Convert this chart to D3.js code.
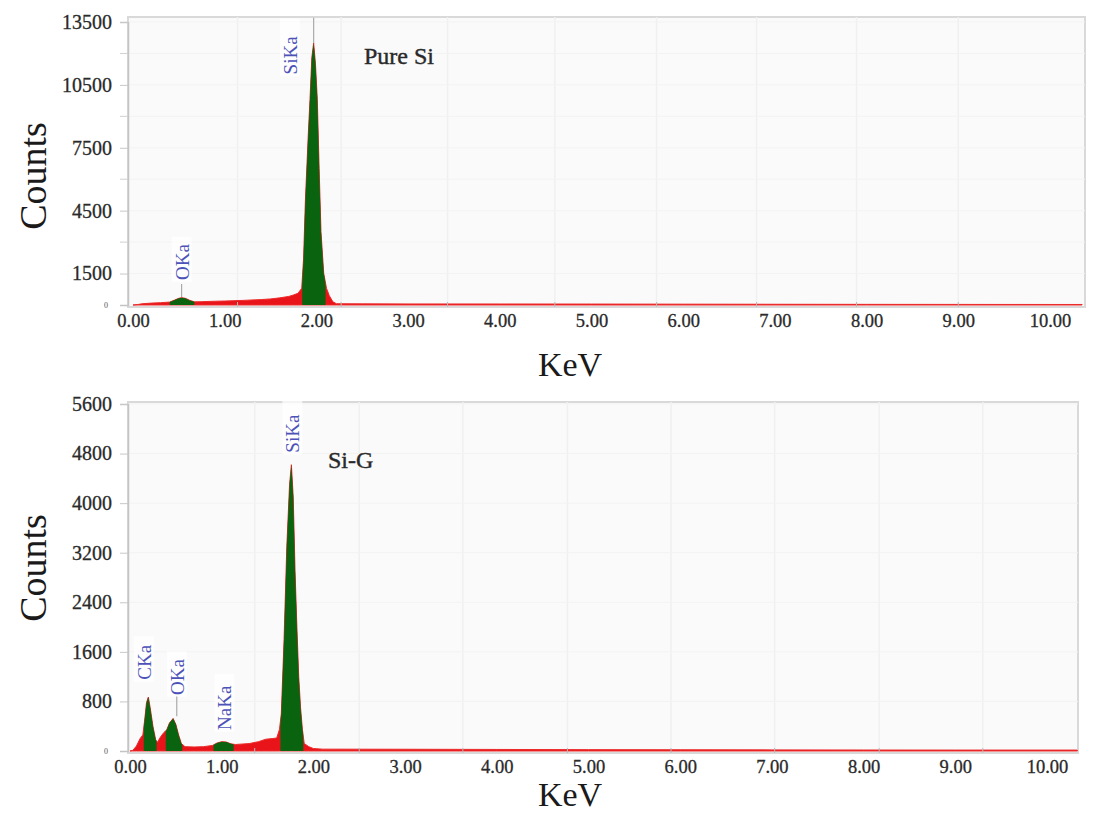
<!DOCTYPE html>
<html>
<head>
<meta charset="utf-8">
<script src="https://cdn.jsdelivr.net/npm/d3@7"></script>
<style>
  body { margin: 0; background: #fff; }
  text { font-family: "Liberation Serif", "Times New Roman", serif; }
</style>
</head>
<body>
<svg id="chart" width="1098" height="816"></svg>
<script>
// x tick labels (keV), shared by both spectra
var xTicks = [0, 1, 2, 3, 4, 5, 6, 7, 8, 9, 10];

// Pure Si spectrum: [keV, counts]
var pureSpectrum = [
  [0.00, 0], [0.05, 20], [0.10, 60], [0.20, 90], [0.30, 110], [0.40, 140],
  [0.45, 230], [0.50, 320], [0.53, 350], [0.57, 320], [0.62, 220], [0.67, 150],
  [0.75, 160], [0.90, 180], [1.00, 190], [1.20, 220], [1.40, 260], [1.50, 290],
  [1.60, 340], [1.70, 410], [1.75, 480], [1.80, 560], [1.84, 800], [1.86, 2200],
  [1.88, 5000], [1.91, 8000], [1.93, 9800], [1.95, 11800], [1.97, 12500],
  [1.99, 11500], [2.01, 9800], [2.03, 6500], [2.05, 3500], [2.08, 1500],
  [2.11, 800], [2.14, 450], [2.18, 150], [2.22, 60], [2.50, 55], [3.00, 50],
  [4.00, 48], [5.00, 45], [6.00, 40], [7.00, 35], [8.00, 30], [9.00, 28],
  [10.00, 25], [10.35, 25]
];
// peak windows painted green: [from keV, to keV]
var purePeaks = [[0.40, 0.67], [1.845, 2.10]];
// peak labels: [text, keV, counts at label foot]
var pureLabels = [["OKa", 0.53, 1190], ["SiKa", 1.71, 11000]];
var pureYTicks = [1500, 4500, 7500, 10500, 13500];
var pureYMinor = [3000, 6000, 9000, 12000];
var pureGrid = [1.14, 2.27, 3.43, 4.60, 5.71, 6.80, 7.89, 9.00];

// Si-G spectrum: [keV, counts]
var sigSpectrum = [
  [0.00, 0], [0.03, 10], [0.07, 80], [0.11, 200], [0.14, 260], [0.16, 500],
  [0.18, 780], [0.20, 870], [0.22, 700], [0.25, 400], [0.28, 180], [0.30, 140],
  [0.33, 220], [0.37, 300], [0.40, 340], [0.43, 450], [0.47, 525], [0.50, 430],
  [0.53, 260], [0.56, 120], [0.60, 70], [0.70, 65], [0.80, 70], [0.90, 90],
  [0.95, 130], [1.00, 150], [1.05, 145], [1.10, 115], [1.15, 105], [1.20, 110],
  [1.30, 120], [1.40, 150], [1.48, 190], [1.55, 200], [1.60, 210], [1.63, 350],
  [1.65, 600], [1.68, 1800], [1.71, 3300], [1.74, 4300], [1.76, 4620],
  [1.78, 4100], [1.80, 2900], [1.82, 2000], [1.84, 1200], [1.86, 700],
  [1.88, 350], [1.90, 120], [1.95, 70], [2.00, 40], [2.10, 30], [3.00, 28],
  [4.00, 25], [5.00, 22], [6.00, 20], [7.00, 18], [8.00, 16], [9.00, 15],
  [10.00, 15], [10.33, 15]
];
var sigPeaks = [[0.15, 0.29], [0.39, 0.57], [0.91, 1.13], [1.64, 1.89]];
var sigLabels = [["CKa", 0.15, 1150], ["OKa", 0.51, 905], ["NaKa", 1.03, 340], ["SiKa", 1.77, 4815]];
var sigYTicks = [800, 1600, 2400, 3200, 4000, 4800, 5600];
var sigYMinor = [];
var sigGrid = [1.36, 2.50, 3.63, 4.77, 5.90, 7.03, 8.17, 9.30];

var svg = d3.select("#chart");

function draw_panel(cfg) {
  var g = svg.append("g");

  var x = d3.scaleLinear().domain([0, 10]).range([cfg.x0, cfg.x10]);
  var y = d3.scaleLinear().domain([0, cfg.yRef]).range([cfg.base, cfg.yRefPx]);

  // plot background
  g.append("rect")
    .attr("x", cfg.left).attr("y", cfg.top)
    .attr("width", cfg.right - cfg.left).attr("height", cfg.base - cfg.top + 2)
    .attr("fill", "#fafafa").attr("stroke", "#d9d9d9").attr("stroke-width", 2);

  // faint grid
  g.selectAll(".vgrid").data(cfg.grid).enter().append("line")
    .attr("x1", function(d) { return x(d); }).attr("x2", function(d) { return x(d); })
    .attr("y1", cfg.top).attr("y2", cfg.base)
    .attr("stroke", "#f0f0f0").attr("stroke-width", 1.5);
  g.selectAll(".hgrid").data(cfg.yTicks.concat(cfg.yMinor)).enter().append("line")
    .attr("x1", cfg.left).attr("x2", cfg.right)
    .attr("y1", function(d) { return y(d); }).attr("y2", function(d) { return y(d); })
    .attr("stroke", "#f3f3f3").attr("stroke-width", 1);

  // spectrum, red everywhere
  var area = d3.area()
    .x(function(d) { return x(d[0]); })
    .y0(y(0))
    .y1(function(d) { return y(d[1]); });

  g.append("path").datum(cfg.spectrum)
    .attr("d", area)
    .attr("fill", "#e8141a")
    .attr("stroke", "#ec2a2a").attr("stroke-width", 1);

  // green peak windows, same area clipped
  cfg.peaks.forEach(function(p, i) {
    var id = "clip-" + cfg.name + "-" + i;
    g.append("clipPath").attr("id", id).append("rect")
      .attr("x", x(p[0])).attr("y", cfg.top)
      .attr("width", x(p[1]) - x(p[0])).attr("height", cfg.base - cfg.top + 2);
    g.append("path").datum(cfg.spectrum)
      .attr("d", area)
      .attr("clip-path", "url(#" + id + ")")
      .attr("fill", "#0a640f");
  });

  // left axis
  var yAxis = g.append("g")
    .attr("transform", "translate(" + cfg.left + ",0)")
    .call(d3.axisLeft(y).tickValues(cfg.yTicks).tickSize(8).tickPadding(8).tickFormat(d3.format("d")));
  yAxis.select(".domain").attr("stroke", "#c4c4c4").attr("stroke-width", 1.5);
  yAxis.selectAll(".tick line").attr("stroke", "#c8c8c8");
  yAxis.selectAll(".tick text")
    .attr("font-family", "Liberation Serif").attr("font-size", 20).attr("fill", "#2a2a2a")
    .attr("stroke", "#2a2a2a").attr("stroke-width", 0.3);

  g.selectAll(".yminor").data(cfg.yMinor).enter().append("line")
    .attr("x1", cfg.left - 8).attr("x2", cfg.left)
    .attr("y1", function(d) { return y(d); }).attr("y2", function(d) { return y(d); })
    .attr("stroke", "#d0d0d0");

  g.append("text")
    .attr("x", cfg.left - 20).attr("y", cfg.base + 3)
    .attr("text-anchor", "end").attr("font-size", 8).attr("fill", "#555")
    .text("0");

  // bottom axis labels
  var xAxis = g.append("g")
    .attr("transform", "translate(0," + cfg.base + ")")
    .call(d3.axisBottom(x).tickValues(xTicks).tickSize(0).tickPadding(9).tickFormat(d3.format(".2f")));
  xAxis.select(".domain").remove();
  xAxis.selectAll(".tick text")
    .attr("font-family", "Liberation Serif").attr("font-size", 18.5).attr("fill", "#2a2a2a")
    .attr("stroke", "#2a2a2a").attr("stroke-width", 0.3);

  // small ticks on the baseline at the grid positions
  g.selectAll(".xminor").data(cfg.grid).enter().append("line")
    .attr("x1", function(d) { return x(d); }).attr("x2", function(d) { return x(d); })
    .attr("y1", cfg.base - 3).attr("y2", cfg.base + 2)
    .attr("stroke", "#bbb");

  // peak labels
  cfg.labels.forEach(function(l) {
    var lx = x(l[1]), ly = y(l[2]);
    var len = l[0].length * 12.5 + 4;
    g.append("rect")
      .attr("x", lx - 10).attr("y", ly - len - 2)
      .attr("width", 20).attr("height", len + 4)
      .attr("fill", "#fff").attr("opacity", 0.7);
    g.append("text")
      .attr("transform", "translate(" + (lx + 7) + "," + ly + ") rotate(-90)")
      .attr("font-size", 19).attr("fill", "#4d52b8")
      .text(l[0]);
  });

  cfg.markers.forEach(function(m) {
    g.append("line")
      .attr("x1", x(m[0])).attr("x2", x(m[0]))
      .attr("y1", y(m[1])).attr("y2", y(m[2]))
      .attr("stroke", "#aaa").attr("stroke-width", 1.2);
  });

  // sample name
  g.append("text")
    .attr("x", cfg.titleX).attr("y", cfg.titleY)
    .attr("font-size", 24).attr("fill", "#2a2a2a")
    .attr("stroke", "#2a2a2a").attr("stroke-width", 0.4)
    .text(cfg.title);

  // axis titles
  g.append("text")
    .attr("transform", "translate(" + 46 + "," + cfg.countsY + ") rotate(-90)")
    .attr("text-anchor", "middle").attr("font-size", 38).attr("fill", "#1a1a1a")
    .text("Counts");
  g.append("text")
    .attr("x", 570).attr("y", cfg.kevY)
    .attr("text-anchor", "middle").attr("font-size", 34).attr("fill", "#1a1a1a")
    .text("KeV");
}

draw_panel({
  name: "pure", left: 128, right: 1085, top: 17, base: 305,
  x0: 133, x10: 1050, yRef: 13500, yRefPx: 22,
  spectrum: pureSpectrum, peaks: purePeaks, labels: pureLabels,
  yTicks: pureYTicks, yMinor: pureYMinor, grid: pureGrid,
  markers: [[0.53, 380, 1000], [1.97, 12500, 13700]],
  title: "Pure Si", titleX: 364, titleY: 64, countsY: 176, kevY: 376
});

draw_panel({
  name: "sig", left: 128, right: 1078, top: 402, base: 751,
  x0: 130, x10: 1047, yRef: 5600, yRefPx: 404,
  spectrum: sigSpectrum, peaks: sigPeaks, labels: sigLabels,
  yTicks: sigYTicks, yMinor: sigYMinor, grid: sigGrid,
  markers: [[0.51, 560, 880]],
  title: "Si-G", titleX: 328, titleY: 468, countsY: 568, kevY: 806
});
</script>
</body>
</html>
